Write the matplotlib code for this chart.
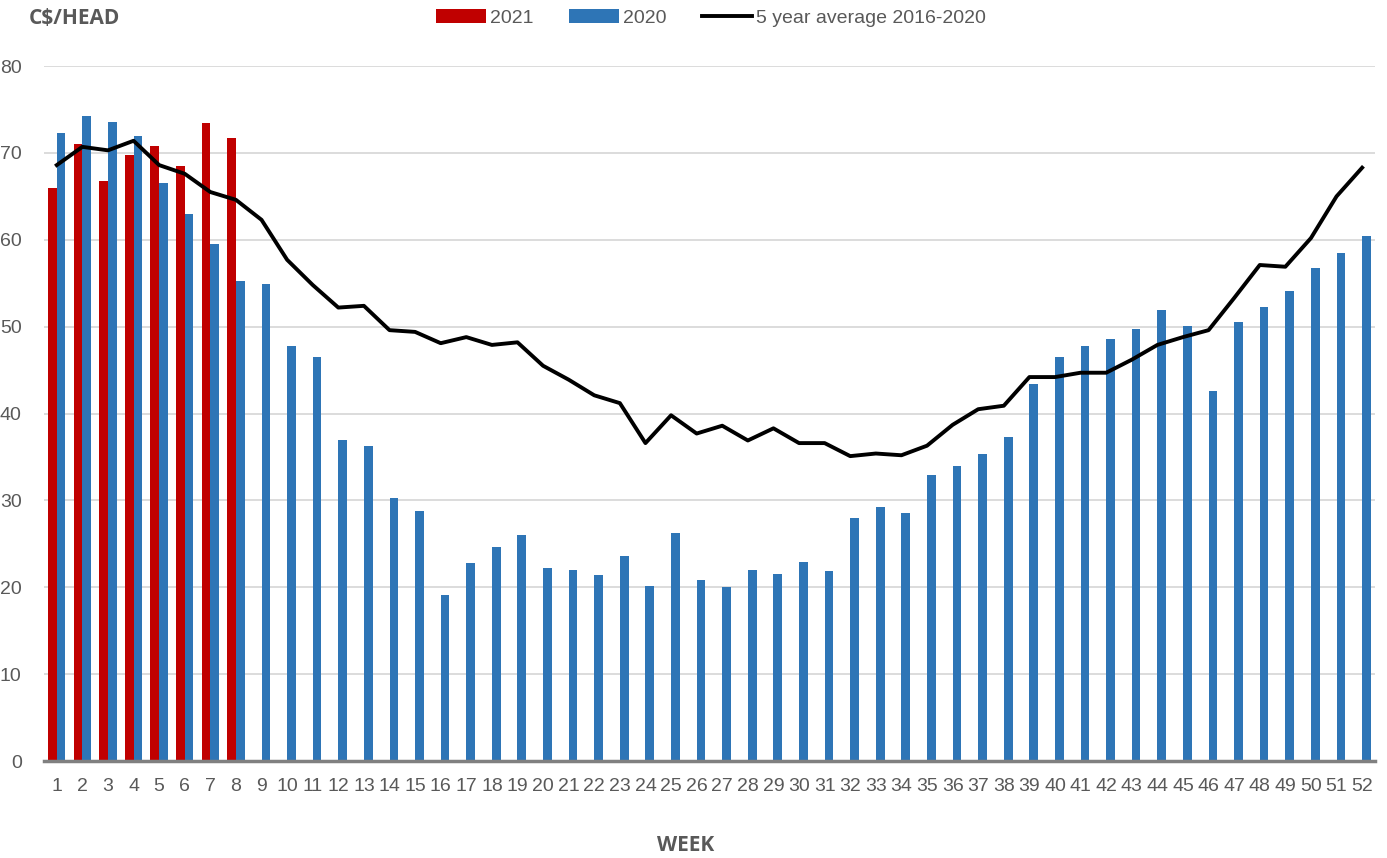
import matplotlib.pyplot as plt
import numpy as np

weeks = list(range(1, 53))

price_2021 = [66.0, 71.0, 66.8, 69.8, 70.8, 68.5, 73.5, 71.7]

price_2020 = [72.3, 74.2, 73.6, 71.9, 66.5, 63.0, 59.5, 55.3, 54.9, 47.8,
              46.5, 37.0, 36.3, 30.3, 28.8, 19.1, 22.8, 24.6, 26.0, 22.2,
              22.0, 21.4, 23.6, 20.2, 26.2, 20.8, 20.0, 22.0, 21.5, 22.9,
              21.9, 28.0, 29.2, 28.6, 32.9, 34.0, 35.3, 37.3, 43.4, 46.5,
              47.8, 48.6, 49.7, 51.9, 50.1, 42.6, 50.5, 52.3, 54.1, 56.7,
              58.5, 60.4]

avg_5yr = [68.6, 70.7, 70.3, 71.4, 68.6, 67.6, 65.5, 64.6, 62.3, 57.7,
           54.8, 52.2, 52.4, 49.6, 49.4, 48.1, 48.8, 47.9, 48.2, 45.5,
           43.9, 42.1, 41.2, 36.6, 39.8, 37.7, 38.6, 36.9, 38.3, 36.6,
           36.6, 35.1, 35.4, 35.2, 36.3, 38.7, 40.5, 40.9, 44.2, 44.2,
           44.7, 44.7, 46.2, 47.9, 48.8, 49.6, 53.3, 57.1, 56.9, 60.2,
           65.0, 68.3]

plt.rcParams['font.family'] = ['Liberation Sans Narrow', 'Liberation Sans', 'DejaVu Sans']

fig = plt.figure(figsize=(13.87, 8.58), dpi=100)
ax = fig.add_axes([0.0317, 0.113, 0.9596, 0.81])

red = '#c00000'
blue = '#2e75b6'
grey_txt = '#595959'
w = 0.34

x = np.array(weeks)
b21 = ax.bar(x[:len(price_2021)] - w / 2, price_2021, width=w, color=red, label='2021', zorder=2)
b20 = ax.bar(x + w / 2, price_2020, width=w, color=blue, label='2020', zorder=2)
ln, = ax.plot(x, avg_5yr, color='black', lw=2.8, label='5 year average 2016-2020', zorder=3)

ax.set_xlim(0.5, 52.5)
ax.set_ylim(0, 80)
ax.set_xticks(weeks)
ax.set_yticks(range(0, 81, 10))
ax.grid(axis='y', color='#d9d9d9', lw=1.3, zorder=0)
ax.set_axisbelow(True)
for s in ['top', 'right', 'left']:
    ax.spines[s].set_visible(False)
ax.spines['bottom'].set_color('#808080')
ax.spines['bottom'].set_linewidth(2.5)
ax.tick_params(axis='both', length=0, labelsize=14, labelcolor=grey_txt)
ax.tick_params(axis='x', pad=12)
ax.tick_params(axis='y', pad=16)

fig.text(0.021, 0.979, 'C$/HEAD', fontsize=15, fontweight='bold', color=grey_txt,
         va='center', ha='left', family=['Open Sans', 'DejaVu Sans'])
fig.text(0.494, 0.015, 'WEEK', fontsize=15, fontweight='bold', color=grey_txt,
         va='center', ha='center', family=['Open Sans', 'DejaVu Sans'])

ax.legend(handles=[b21, b20, ln], loc='center', bbox_to_anchor=(0.501, 1.069), ncol=3,
          frameon=False, fontsize=14, labelcolor=grey_txt, handlelength=2.6,
          handleheight=0.7, columnspacing=1.8, handletextpad=0.2)

plt.savefig('out.png', dpi=100)
